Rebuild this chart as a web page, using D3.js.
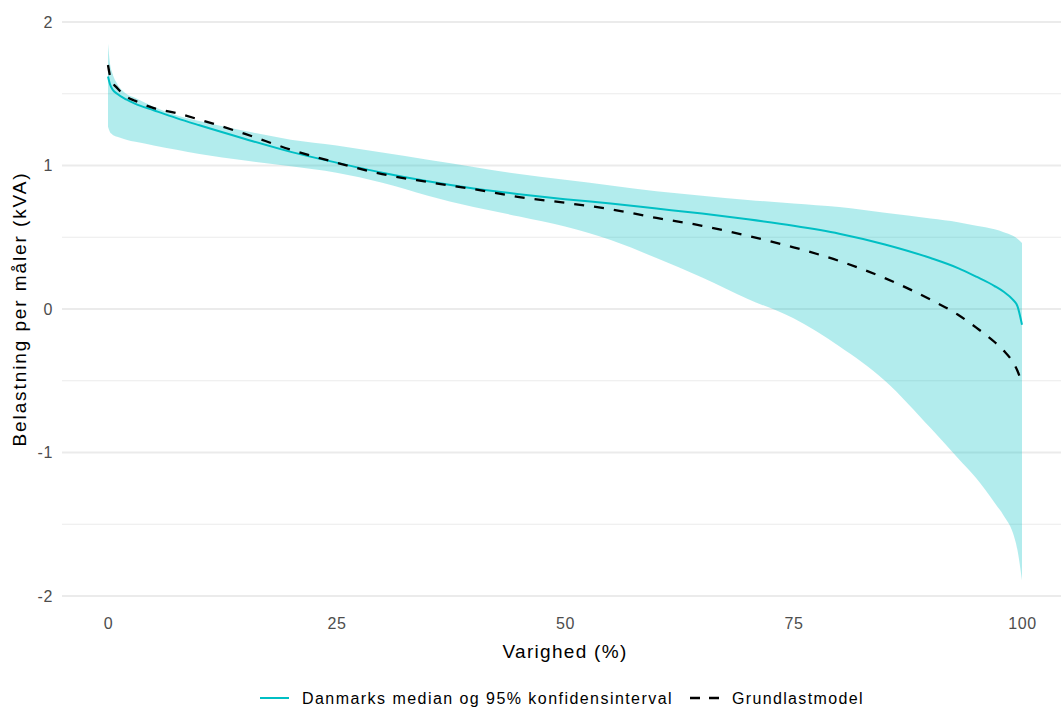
<!DOCTYPE html>
<html lang="da">
<head>
<meta charset="utf-8">
<script src="https://d3js.org/d3.v7.min.js"></script>
<style>
  body { margin: 0; background: #fff; }
  svg text { font-family: "Liberation Sans", Arial, sans-serif; }
</style>
</head>
<body>
<div id="chart"></div>
<script>
// varighed (%) and readings
const varighed = [0, 0.2, 0.5, 1, 2, 3, 5, 7.5, 10, 15, 20, 25, 30, 35, 40, 45, 50, 55, 60, 65, 70, 75, 80, 85, 90, 93, 95, 97, 98, 99, 99.5, 100];
const median   = [1.62, 1.57, 1.53, 1.50, 1.46, 1.43, 1.385, 1.33, 1.28, 1.185, 1.095, 1.02, 0.95, 0.89, 0.84, 0.80, 0.765, 0.735, 0.70, 0.665, 0.625, 0.58, 0.525, 0.45, 0.355, 0.285, 0.225, 0.16, 0.12, 0.065, 0.02, -0.11];
const ciUpper  = [1.85, 1.72, 1.64, 1.57, 1.50, 1.47, 1.41, 1.35, 1.31, 1.24, 1.18, 1.14, 1.09, 1.04, 0.99, 0.94, 0.90, 0.86, 0.82, 0.79, 0.76, 0.735, 0.71, 0.67, 0.63, 0.605, 0.58, 0.555, 0.535, 0.51, 0.49, 0.46];
const ciLower  = [1.27, 1.235, 1.215, 1.20, 1.18, 1.165, 1.14, 1.11, 1.08, 1.035, 0.995, 0.95, 0.88, 0.79, 0.71, 0.645, 0.575, 0.48, 0.355, 0.22, 0.07, -0.065, -0.26, -0.50, -0.83, -1.04, -1.18, -1.35, -1.44, -1.56, -1.68, -1.89];
const grundlast = [1.70, 1.63, 1.58, 1.54, 1.48, 1.45, 1.40, 1.365, 1.32, 1.22, 1.11, 1.02, 0.94, 0.885, 0.835, 0.78, 0.74, 0.695, 0.635, 0.58, 0.51, 0.43, 0.335, 0.215, 0.065, -0.04, -0.13, -0.23, -0.29, -0.37, -0.43, -0.52];

const xTicks = [0, 25, 50, 75, 100];
const yTicks = [-2, -1, 0, 1, 2];
const yMinor = [-1.5, -0.5, 0.5, 1.5];
const legendLabels = ["Danmarks median og 95% konfidensinterval", "Grundlastmodel"];

const W = 1061, H = 709;
const TEAL = "#00BFC4";
const panelLeft = 62, panelRight = 1061;

const svg = d3.select("#chart").append("svg")
  .attr("width", W).attr("height", H);

const x = d3.scaleLinear().domain([0, 100]).range([108, 1022]);
const y = d3.scaleLinear().domain([-2, 2]).range([596, 22]);

// grid
svg.append("g").selectAll("line").data(yMinor).join("line")
  .attr("x1", panelLeft).attr("x2", panelRight)
  .attr("y1", d => y(d)).attr("y2", d => y(d))
  .attr("stroke", "#ebebeb").attr("stroke-width", 1.1);
svg.append("g").selectAll("line").data(yTicks).join("line")
  .attr("x1", panelLeft).attr("x2", panelRight)
  .attr("y1", d => y(d)).attr("y2", d => y(d))
  .attr("stroke", "#ebebeb").attr("stroke-width", 2);

const rows = varighed.map((v, i) => ({ v, med: median[i], lo: ciLower[i], hi: ciUpper[i], g: grundlast[i] }));

// ribbon
svg.append("path")
  .datum(rows)
  .attr("fill", TEAL).attr("fill-opacity", 0.3)
  .attr("d", d3.area().curve(d3.curveMonotoneX)
    .x(d => x(d.v)).y0(d => y(d.lo)).y1(d => y(d.hi)));

// median
svg.append("path")
  .datum(rows)
  .attr("fill", "none").attr("stroke", TEAL).attr("stroke-width", 2)
  .attr("d", d3.line().curve(d3.curveMonotoneX).x(d => x(d.v)).y(d => y(d.med)));

// grundlastmodel
svg.append("path")
  .datum(rows)
  .attr("fill", "none").attr("stroke", "#000").attr("stroke-width", 2.3)
  .attr("stroke-dasharray", "10,10")
  .attr("d", d3.line().curve(d3.curveMonotoneX).x(d => x(d.v)).y(d => y(d.g)));

// axes (ticks only as text, theme_minimal style)
const xAxis = svg.append("g")
  .attr("transform", "translate(0,608)")
  .call(d3.axisBottom(x).tickValues(xTicks).tickSize(0).tickPadding(10));
xAxis.select(".domain").remove();
xAxis.selectAll("text").attr("font-size", 16).attr("fill", "#4d4d4d")
  .style("letter-spacing", "0.6px")
  .style("font-family", "'Liberation Sans', Arial, sans-serif");

const yAxis = svg.append("g")
  .attr("transform", "translate(55,0)")
  .call(d3.axisLeft(y).tickValues(yTicks).tickSize(0).tickPadding(2)
    .tickFormat(d => d < 0 ? "-" + Math.abs(d) : d));
yAxis.select(".domain").remove();
yAxis.selectAll("text").attr("font-size", 16).attr("fill", "#4d4d4d")
  .style("letter-spacing", "0.6px")
  .style("font-family", "'Liberation Sans', Arial, sans-serif");

// titles
svg.append("text")
  .attr("x", (x(0) + x(100)) / 2).attr("y", 658)
  .attr("text-anchor", "middle").attr("font-size", 19).attr("fill", "#000")
  .style("letter-spacing", "1.3px")
  .text("Varighed (%)");

svg.append("text")
  .attr("transform", "translate(26," + y(0) + ") rotate(-90)")
  .attr("text-anchor", "middle").attr("font-size", 19).attr("fill", "#000")
  .style("letter-spacing", "1.9px")
  .text("Belastning per måler (kVA)");

// legend
const leg = svg.append("g").attr("transform", "translate(0,698)");
leg.append("line").attr("x1", 260).attr("x2", 289).attr("y1", 0).attr("y2", 0)
  .attr("stroke", TEAL).attr("stroke-width", 2);
leg.append("text").attr("x", 302).attr("y", 6).attr("font-size", 16).attr("fill", "#000")
  .style("letter-spacing", "1.45px")
  .text(legendLabels[0]);
leg.append("line").attr("x1", 690).attr("x2", 719).attr("y1", 0).attr("y2", 0)
  .attr("stroke", "#000").attr("stroke-width", 2.3).attr("stroke-dasharray", "10,9");
leg.append("text").attr("x", 732).attr("y", 6).attr("font-size", 16).attr("fill", "#000")
  .style("letter-spacing", "1.35px")
  .text(legendLabels[1]);
</script>
</body>
</html>
